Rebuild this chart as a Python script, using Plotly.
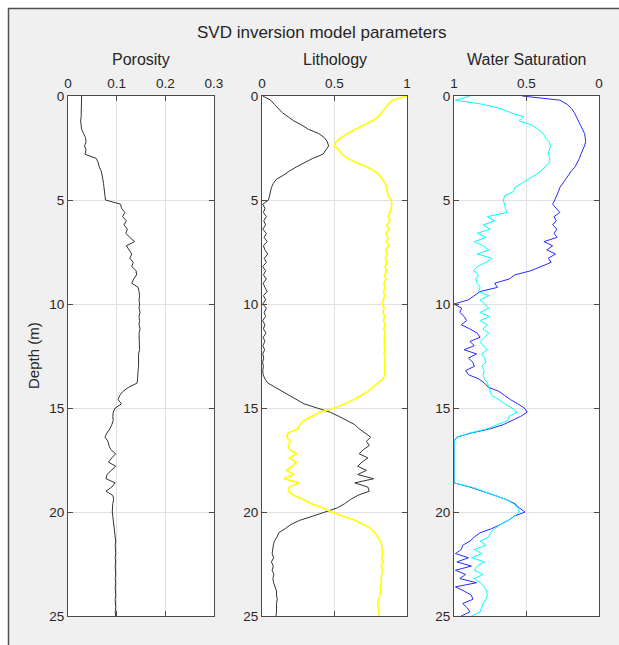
import plotly.graph_objects as go

# ---------------- data ----------------
depth_m = [
    0.0, 0.2, 0.4, 0.6, 0.8, 1.0, 1.2, 1.4, 1.6, 1.8,
    2.0, 2.2, 2.4, 2.6, 2.8, 3.0, 3.2, 3.4, 3.6, 3.8,
    4.0, 4.2, 4.4, 4.6, 4.8, 5.0, 5.2, 5.4, 5.6, 5.8,
    6.0, 6.2, 6.4, 6.6, 6.8, 7.0, 7.2, 7.4, 7.6, 7.8,
    8.0, 8.2, 8.4, 8.6, 8.8, 9.0, 9.2, 9.4, 9.6, 9.8,
    10.0, 10.2, 10.4, 10.6, 10.8, 11.0, 11.2, 11.4, 11.6, 11.8,
    12.0, 12.2, 12.4, 12.6, 12.8, 13.0, 13.2, 13.4, 13.6, 13.8,
    14.0, 14.2, 14.4, 14.6, 14.8, 15.0, 15.2, 15.4, 15.6, 15.8,
    16.0, 16.2, 16.4, 16.6, 16.8, 17.0, 17.2, 17.4, 17.6, 17.8,
    18.0, 18.2, 18.4, 18.6, 18.8, 19.0, 19.2, 19.4, 19.6, 19.8,
    20.0, 20.2, 20.4, 20.6, 20.8, 21.0, 21.2, 21.4, 21.6, 21.8,
    22.0, 22.2, 22.4, 22.6, 22.8, 23.0, 23.2, 23.4, 23.6, 23.8,
    24.0, 24.2, 24.4, 24.6, 24.8, 25.0,
]

porosity = [
    0.028, 0.028, 0.027, 0.027, 0.027, 0.027, 0.026, 0.027, 0.028, 0.032,
    0.036, 0.037, 0.034, 0.037, 0.035, 0.058, 0.062, 0.064, 0.068, 0.070,
    0.072, 0.073, 0.074, 0.075, 0.075, 0.077, 0.108, 0.110, 0.117, 0.112,
    0.120, 0.115, 0.122, 0.119, 0.127, 0.137, 0.120, 0.126, 0.131, 0.127,
    0.134, 0.131, 0.140, 0.141, 0.135, 0.131, 0.144, 0.146, 0.147, 0.146,
    0.147, 0.146, 0.148, 0.146, 0.147, 0.146, 0.148, 0.146, 0.146, 0.147,
    0.146, 0.147, 0.145, 0.145, 0.146, 0.145, 0.144, 0.144, 0.143, 0.142,
    0.125, 0.113, 0.106, 0.103, 0.110, 0.097, 0.093, 0.092, 0.093, 0.090,
    0.086, 0.080, 0.076, 0.082, 0.084, 0.088, 0.098, 0.090, 0.083, 0.098,
    0.088, 0.080, 0.078, 0.097, 0.090, 0.078, 0.092, 0.094, 0.092, 0.091,
    0.091, 0.092, 0.093, 0.094, 0.096, 0.097, 0.097, 0.098, 0.097, 0.098,
    0.098, 0.097, 0.098, 0.097, 0.098, 0.098, 0.097, 0.098, 0.097, 0.098,
    0.098, 0.097, 0.098, 0.098, 0.097, 0.098,
]

lith_black = [
    0.005, 0.06, 0.085, 0.11, 0.14, 0.18, 0.22, 0.275, 0.32, 0.39,
    0.43, 0.45, 0.46, 0.44, 0.42, 0.35, 0.29, 0.24, 0.19, 0.15,
    0.10, 0.078, 0.065, 0.058, 0.052, 0.045, 0.005, 0.02, 0.01, 0.03,
    0.012, 0.025, 0.005, 0.03, 0.015, 0.035, 0.01, 0.02, 0.04, 0.015,
    0.03, 0.005, 0.025, 0.01, 0.03, 0.008, 0.02, 0.035, 0.01, 0.025,
    0.005, 0.03, 0.015, 0.025, 0.005, 0.02, 0.01, 0.028, 0.008, 0.02,
    0.006, 0.018, 0.005, 0.012, 0.004, 0.01, 0.005, 0.008, 0.02, 0.04,
    0.09, 0.14, 0.19, 0.24, 0.29, 0.38, 0.47, 0.53, 0.58, 0.64,
    0.67, 0.71, 0.75, 0.72, 0.74, 0.70, 0.67, 0.73, 0.69, 0.66,
    0.72, 0.66, 0.77, 0.64, 0.73, 0.74, 0.66, 0.61, 0.57, 0.52,
    0.44, 0.35, 0.26, 0.20, 0.16, 0.115, 0.104, 0.085, 0.078, 0.072,
    0.07, 0.08, 0.065, 0.078, 0.07, 0.082, 0.075, 0.08, 0.09, 0.10,
    0.10, 0.105, 0.10, 0.102, 0.10, 0.097,
]

lith_yellow = [
    0.998, 0.90, 0.87, 0.85, 0.825, 0.80, 0.76, 0.70, 0.64, 0.59,
    0.545, 0.51, 0.50, 0.53, 0.55, 0.59, 0.65, 0.72, 0.775, 0.81,
    0.83, 0.85, 0.857, 0.862, 0.87, 0.89, 0.895, 0.892, 0.88, 0.87,
    0.882, 0.86, 0.875, 0.855, 0.87, 0.86, 0.875, 0.852, 0.865, 0.85,
    0.862, 0.848, 0.86, 0.845, 0.855, 0.84, 0.85, 0.838, 0.845, 0.835,
    0.83, 0.842, 0.835, 0.845, 0.838, 0.848, 0.84, 0.85, 0.842, 0.845,
    0.843, 0.848, 0.842, 0.85, 0.846, 0.848, 0.845, 0.846, 0.835, 0.80,
    0.77, 0.73, 0.685, 0.63, 0.575, 0.50, 0.40, 0.345, 0.29, 0.26,
    0.25, 0.18, 0.17, 0.195, 0.18, 0.19, 0.24, 0.19, 0.235, 0.21,
    0.17, 0.22, 0.15, 0.255, 0.19, 0.18, 0.22, 0.285, 0.34, 0.42,
    0.48, 0.56, 0.64, 0.70, 0.75, 0.78, 0.80, 0.815, 0.825, 0.83,
    0.832, 0.825, 0.835, 0.822, 0.83, 0.825, 0.82, 0.825, 0.815, 0.82,
    0.81, 0.805, 0.798, 0.80, 0.805, 0.808,
]

sw_blue = [
    0.53, 0.27, 0.22, 0.19, 0.17, 0.156, 0.14, 0.13, 0.115, 0.10,
    0.095, 0.092, 0.10, 0.115, 0.125, 0.135, 0.15, 0.165, 0.19, 0.21,
    0.23, 0.255, 0.27, 0.28, 0.29, 0.305, 0.32, 0.295, 0.27, 0.31,
    0.295, 0.32, 0.29, 0.31, 0.29, 0.38, 0.32, 0.36, 0.30, 0.35,
    0.33, 0.40, 0.47, 0.58, 0.62, 0.72, 0.70, 0.82, 0.86, 0.90,
    1.0, 0.947, 0.96, 0.93, 0.913, 0.95, 0.89, 0.84, 0.82, 0.89,
    0.86, 0.93, 0.845, 0.90, 0.87, 0.86, 0.92, 0.90, 0.83, 0.79,
    0.764, 0.69, 0.65, 0.61, 0.56, 0.515, 0.495, 0.54, 0.60, 0.66,
    0.75, 0.88, 0.98, 1.0, 1.0, 1.0, 1.0, 1.0, 1.0, 1.0,
    1.0, 1.0, 1.0, 1.0, 0.89, 0.80, 0.72, 0.64, 0.58, 0.55,
    0.51, 0.585, 0.625, 0.68, 0.74, 0.82, 0.86, 0.89, 0.94, 0.95,
    0.99, 0.90, 0.98, 0.88, 0.99, 0.92, 0.96, 0.845, 0.99, 0.93,
    0.88, 0.87, 0.94, 0.91, 0.89, 0.95,
]

sw_cyan = [
    0.89, 0.99, 0.80, 0.683, 0.61, 0.52, 0.55, 0.46, 0.42, 0.385,
    0.37, 0.345, 0.335, 0.34, 0.35, 0.34, 0.345, 0.37, 0.40, 0.44,
    0.49, 0.54, 0.58, 0.59, 0.65, 0.66, 0.655, 0.645, 0.635, 0.77,
    0.72, 0.80, 0.75, 0.84, 0.78, 0.86, 0.80, 0.76, 0.84, 0.74,
    0.78, 0.84, 0.865, 0.83, 0.85, 0.84, 0.82, 0.83, 0.76, 0.82,
    0.79, 0.76, 0.82, 0.755, 0.82, 0.77, 0.80, 0.76, 0.79, 0.82,
    0.80, 0.77, 0.81, 0.79, 0.78, 0.81, 0.79, 0.80, 0.79, 0.77,
    0.76, 0.75, 0.74, 0.69, 0.65, 0.60, 0.565, 0.62, 0.63, 0.70,
    0.77, 0.89, 0.98, 1.0, 1.0, 1.0, 1.0, 1.0, 1.0, 1.0,
    1.0, 1.0, 1.0, 1.0, 0.88, 0.80, 0.73, 0.64, 0.59, 0.56,
    0.55, 0.58, 0.625, 0.68, 0.72, 0.75, 0.76, 0.82, 0.78, 0.86,
    0.81, 0.88, 0.79, 0.84, 0.86, 0.80, 0.86, 0.82, 0.79, 0.775,
    0.77, 0.78, 0.80, 0.81, 0.82, 0.88,
]

panel_titles = ["Porosity", "Lithology", "Water Saturation"]
main_title = "SVD inversion model parameters"
depth_label = "Depth (m)"
depth_ticks = [0, 5, 10, 15, 20, 25]
depth_ticklabels = ["0", "5", "10", "15", "20", "25"]
por_ticks = [0, 0.1, 0.2, 0.3]
por_ticklabels = ["0", "0.1", "0.2", "0.3"]
lith_ticks = [0, 0.5, 1]
lith_ticklabels = ["0", "0.5", "1"]
sw_ticks = [1, 0.5, 0]
sw_ticklabels = ["1", "0.5", "0"]

# ---------------- layout geometry (pixels) ----------------
W, H = 619, 645
FONT = "Liberation Sans, Arial, Helvetica, sans-serif"
TXT = "#262626"
AX = "#4a4a4a"
GRID = "#e0e0e0"

def fx(px):
    return px / W

def fy(py):
    return 1 - py / H

y_dom = [fy(616), fy(96)]
x_doms = [[fx(68), fx(214)], [fx(262), fx(407)], [fx(454), fx(599)]]

fig = go.Figure()

fig.add_trace(go.Scatter(x=porosity, y=depth_m, mode="lines",
                         line=dict(color="#333333", width=1),
                         xaxis="x", yaxis="y", showlegend=False))
fig.add_trace(go.Scatter(x=lith_black, y=depth_m, mode="lines",
                         line=dict(color="#333333", width=1),
                         xaxis="x2", yaxis="y2", showlegend=False))
fig.add_trace(go.Scatter(x=lith_yellow, y=depth_m, mode="lines",
                         line=dict(color="#ffff00", width=1.6),
                         xaxis="x2", yaxis="y2", showlegend=False))
fig.add_trace(go.Scatter(x=sw_blue, y=depth_m, mode="lines",
                         line=dict(color="#2a2aff", width=1),
                         xaxis="x3", yaxis="y3", showlegend=False))
fig.add_trace(go.Scatter(x=sw_cyan, y=depth_m, mode="lines",
                         line=dict(color="#00ffff", width=1),
                         xaxis="x3", yaxis="y3", showlegend=False))

common_x = dict(side="top", showgrid=True, gridcolor=GRID, gridwidth=1,
                zeroline=False, showline=True, linecolor=AX, linewidth=1,
                mirror="ticks", ticks="inside", ticklen=5, tickcolor=AX,
                tickfont=dict(family=FONT, size=13.5, color=TXT),
                ticklabelstandoff=2, automargin=False, fixedrange=True)
common_y = dict(domain=y_dom, range=[25, 0], tickvals=depth_ticks,
                ticktext=depth_ticklabels, showgrid=True, gridcolor=GRID,
                zeroline=False, showline=True, linecolor=AX, linewidth=1,
                mirror="ticks", ticks="inside", ticklen=5, tickcolor=AX,
                tickfont=dict(family=FONT, size=13.5, color=TXT),
                ticklabelstandoff=0, automargin=False, fixedrange=True)

layout = dict(
    width=W, height=H, autosize=False,
    margin=dict(l=0, r=0, t=0, b=0, pad=0),
    paper_bgcolor="#f0f0f0", plot_bgcolor="#ffffff",
    showlegend=False,
    xaxis=dict(common_x, domain=x_doms[0], anchor="y", range=[0, 0.3],
               tickvals=por_ticks, ticktext=por_ticklabels),
    xaxis2=dict(common_x, domain=x_doms[1], anchor="y2", range=[0, 1],
                tickvals=lith_ticks, ticktext=lith_ticklabels),
    xaxis3=dict(common_x, domain=x_doms[2], anchor="y3", range=[1, 0],
                tickvals=sw_ticks, ticktext=sw_ticklabels),
    yaxis=dict(common_y, anchor="x"),
    yaxis2=dict(common_y, anchor="x2"),
    yaxis3=dict(common_y, anchor="x3"),
)
fig.update_layout(**layout)

annotations = []
annotations.append(dict(text=main_title, x=fx(321), y=fy(33), xref="paper", yref="paper",
                        xanchor="center", yanchor="middle", showarrow=False,
                        font=dict(family=FONT, size=17, color=TXT)))
for t, dom in zip(panel_titles, x_doms):
    annotations.append(dict(text=t, x=(dom[0] + dom[1]) / 2, y=fy(60), xref="paper",
                            yref="paper", xanchor="center", yanchor="middle",
                            showarrow=False, font=dict(family=FONT, size=16, color=TXT)))
annotations.append(dict(text=depth_label, x=fx(33), y=(y_dom[0] + y_dom[1]) / 2,
                        xref="paper", yref="paper", xanchor="center", yanchor="middle",
                        textangle=-90, showarrow=False,
                        font=dict(family=FONT, size=15, color=TXT)))
fig.update_layout(annotations=annotations)

# outer white strip + figure border (top and left)
shapes = [
    dict(type="rect", xref="paper", yref="paper", x0=0, x1=1, y0=fy(8), y1=1,
         fillcolor="#ffffff", line=dict(width=0), layer="below"),
    dict(type="rect", xref="paper", yref="paper", x0=0, x1=fx(8), y0=0, y1=1,
         fillcolor="#ffffff", line=dict(width=0), layer="below"),
    dict(type="rect", xref="paper", yref="paper", x0=fx(603), x1=1, y0=fy(40), y1=fy(9),
         fillcolor="#f0f0f0", line=dict(width=0), layer="above"),
    dict(type="line", xref="paper", yref="paper", x0=fx(8), x1=1, y0=fy(8.5), y1=fy(8.5),
         line=dict(color="#505050", width=1.5)),
    dict(type="line", xref="paper", yref="paper", x0=fx(8.5), x1=fx(8.5), y0=0, y1=fy(8),
         line=dict(color="#505050", width=1.5)),
]
fig.update_layout(shapes=shapes)

fig.write_html("out.html", config={"displayModeBar": False})
